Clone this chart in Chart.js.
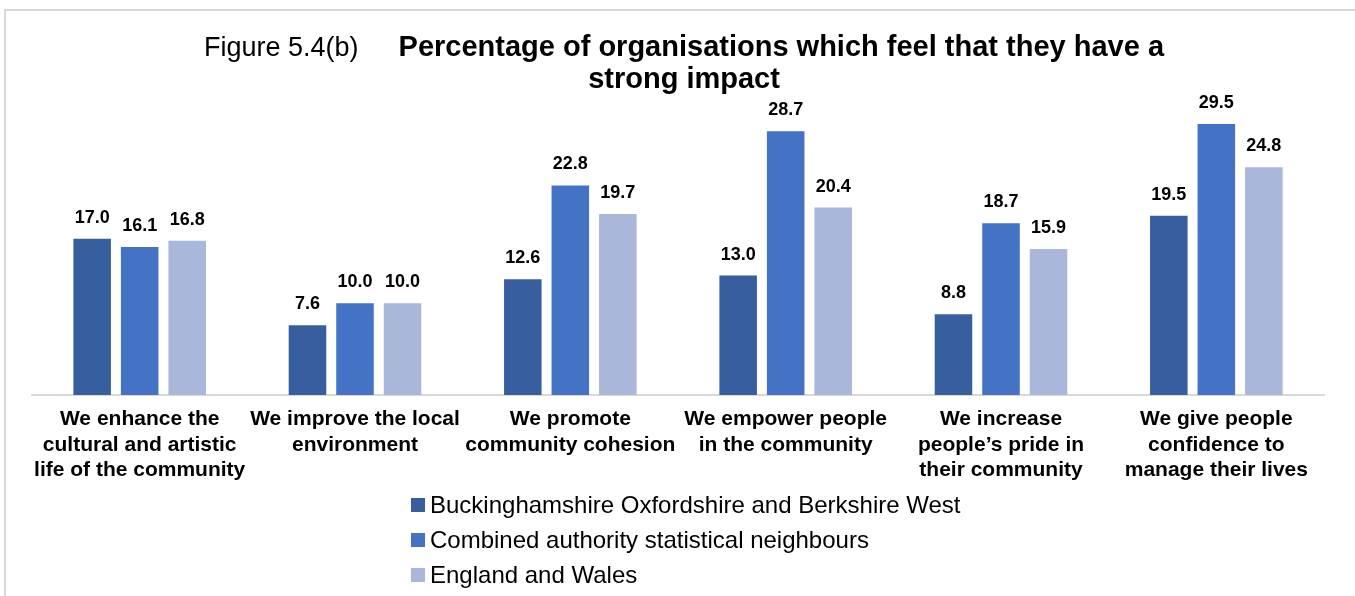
<!DOCTYPE html>
<html>
<head>
<meta charset="utf-8">
<script src="https://cdn.jsdelivr.net/npm/chart.js@4/dist/chart.umd.min.js"></script>
<style>
  html, body { margin: 0; padding: 0; background: #fff; overflow: hidden; }
  #wrap { width: 1355px; height: 596px; position: relative; }
</style>
</head>
<body>
<div id="wrap"><canvas id="impact-chart" width="1355" height="596"></canvas></div>
<script>
// Data
const categories = [
    ['We enhance the', 'cultural and artistic', 'life of the community'],
    ['We improve the local', 'environment'],
    ['We promote', 'community cohesion'],
    ['We empower people', 'in the community'],
    ['We increase', 'people\u2019s pride in', 'their community'],
    ['We give people', 'confidence to', 'manage their lives']
];
const seriesNames = [
    'Buckinghamshire Oxfordshire and Berkshire West',
    'Combined authority statistical neighbours',
    'England and Wales'
];
const bobwValues = [17.0, 7.6, 12.6, 13.0, 8.8, 19.5];
const neighbourValues = [16.1, 10.0, 22.8, 28.7, 18.7, 29.5];
const englandWalesValues = [16.8, 10.0, 19.7, 20.4, 15.9, 24.8];
const seriesColors = ['#375F9F', '#4472C4', '#A9B7DB'];

const FONT = '"Liberation Sans", Arial, sans-serif';

// Title, legend, outline and value labels drawn on the canvas
const chartText = {
    id: 'chartText',
    beforeDraw(chart) {
        const c = chart.ctx;
        c.save();
        c.strokeStyle = '#d9d9d9';
        c.lineWidth = 2;
        c.beginPath();
        c.moveTo(5, 700);
        c.lineTo(5, 10);
        c.lineTo(1400, 10);
        c.stroke();
        c.restore();
    },
    afterDatasetsDraw(chart) {
        const c = chart.ctx;
        c.save();
        c.font = 'bold 18px ' + FONT;
        c.fillStyle = '#000';
        c.textAlign = 'center';
        c.textBaseline = 'middle';
        chart.data.datasets.forEach((ds, i) => {
            chart.getDatasetMeta(i).data.forEach((bar, j) => {
                c.fillText(ds.data[j].toFixed(1), bar.x, bar.y - 21);
            });
        });
        c.restore();
    },
    afterDraw(chart) {
        const c = chart.ctx;
        c.save();
        c.fillStyle = '#000';
        c.textBaseline = 'alphabetic';

        // title: regular figure number, bold heading
        const fig = 'Figure 5.4(b)';
        const head1 = 'Percentage of organisations which feel that they have a';
        const head2 = 'strong impact';
        c.font = '27px ' + FONT;
        const wFig = c.measureText(fig).width;
        c.font = 'bold 29px ' + FONT;
        const wHead = c.measureText(head1).width;
        const gap = 40;
        const cx = 684;
        let x = cx - (wFig + gap + wHead) / 2;
        c.textAlign = 'left';
        c.font = '27px ' + FONT;
        c.fillText(fig, x, 56);
        c.font = 'bold 29px ' + FONT;
        c.fillText(head1, x + wFig + gap, 56);
        c.textAlign = 'center';
        c.fillText(head2, cx, 88);

        // legend, one entry per row
        c.textAlign = 'left';
        c.textBaseline = 'middle';
        c.font = '24px ' + FONT;
        chart.data.datasets.forEach((ds, i) => {
            const y = 505 + i * 35;
            c.fillStyle = ds.backgroundColor;
            c.fillRect(411, y - 7, 14, 14);
            c.fillStyle = '#000';
            c.fillText(ds.label, 430, y + 1);
        });
        c.restore();
    }
};

const ctx = document.getElementById('impact-chart').getContext('2d');
const impactChart = new Chart(ctx, {
    type: 'bar',
    data: {
        labels: categories,
        datasets: [
            { label: seriesNames[0], data: bobwValues, backgroundColor: seriesColors[0] },
            { label: seriesNames[1], data: neighbourValues, backgroundColor: seriesColors[1] },
            { label: seriesNames[2], data: englandWalesValues, backgroundColor: seriesColors[2] }
        ]
    },
    options: {
        responsive: false,
        animation: false,
        layout: { padding: { top: 101, left: 32, right: 31, bottom: 0 } },
        categoryPercentage: 0.662,
        barPercentage: 0.79,
        scales: {
            x: {
                grid: { display: false, drawTicks: false },
                border: { display: true, color: '#d9d9d9', width: 2 },
                ticks: {
                    color: '#000',
                    padding: 12,
                    maxRotation: 0,
                    autoSkip: false,
                    font: { family: FONT, size: 21, weight: 'bold', lineHeight: 1.2 }
                },
                afterFit(scale) {
                    scale.height = 201;
                }
            },
            y: {
                display: false,
                min: 0,
                max: 32
            }
        },
        plugins: {
            legend: { display: false },
            title: { display: false },
            tooltip: { enabled: false }
        }
    },
    plugins: [chartText]
});
</script>
</body>
</html>
